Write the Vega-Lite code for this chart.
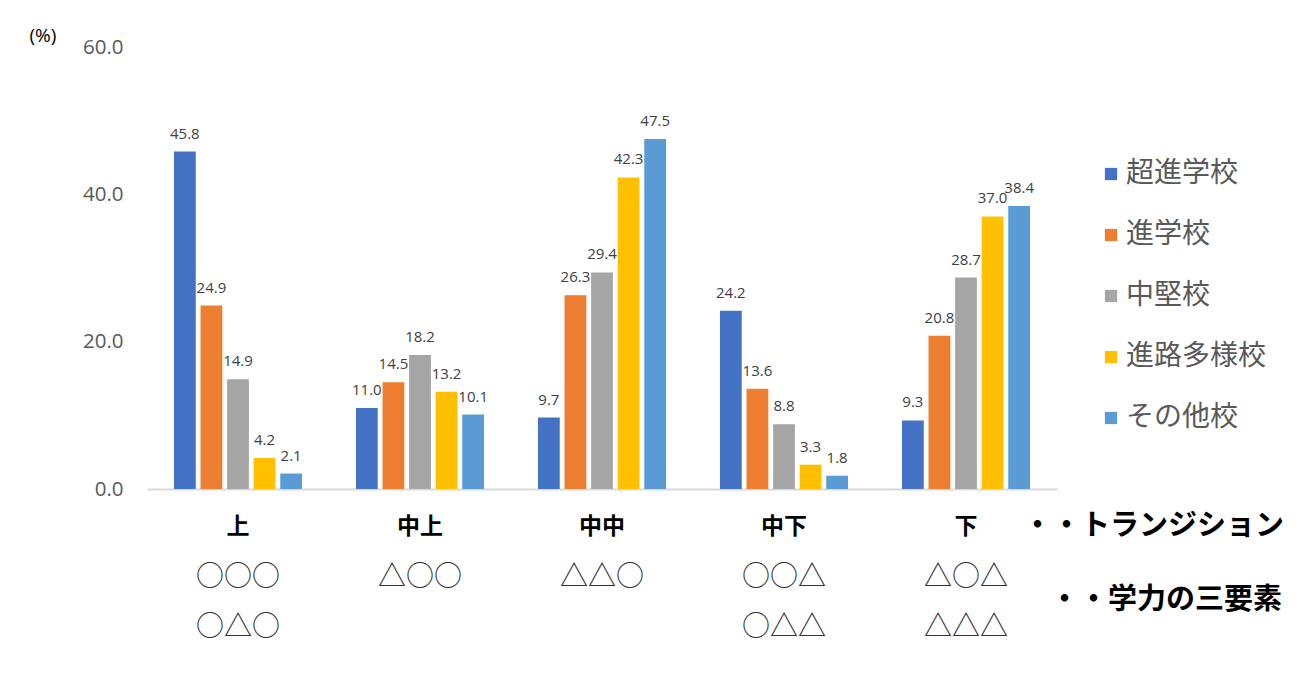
{
  "$schema": "https://vega.github.io/schema/vega-lite/v6.json",
  "autosize": {"type": "none"},
  "padding": {"left": 147, "top": 47, "right": 1149, "bottom": 639},
  "bounds": "flush",
  "spacing": 24,
  "background": "white",
  "config": {
    "view": {"stroke": null},
    "font": "Noto Sans CJK JP"
  },
  "datasets": {
    "bars": [
      {"group": "上", "school": "超進学校", "pct": 45.8},
      {"group": "上", "school": "進学校", "pct": 24.9},
      {"group": "上", "school": "中堅校", "pct": 14.9},
      {"group": "上", "school": "進路多様校", "pct": 4.2},
      {"group": "上", "school": "その他校", "pct": 2.1},
      {"group": "中上", "school": "超進学校", "pct": 11.0},
      {"group": "中上", "school": "進学校", "pct": 14.5},
      {"group": "中上", "school": "中堅校", "pct": 18.2},
      {"group": "中上", "school": "進路多様校", "pct": 13.2},
      {"group": "中上", "school": "その他校", "pct": 10.1},
      {"group": "中中", "school": "超進学校", "pct": 9.7},
      {"group": "中中", "school": "進学校", "pct": 26.3},
      {"group": "中中", "school": "中堅校", "pct": 29.4},
      {"group": "中中", "school": "進路多様校", "pct": 42.3},
      {"group": "中中", "school": "その他校", "pct": 47.5},
      {"group": "中下", "school": "超進学校", "pct": 24.2},
      {"group": "中下", "school": "進学校", "pct": 13.6},
      {"group": "中下", "school": "中堅校", "pct": 8.8},
      {"group": "中下", "school": "進路多様校", "pct": 3.3},
      {"group": "中下", "school": "その他校", "pct": 1.8},
      {"group": "下", "school": "超進学校", "pct": 9.3},
      {"group": "下", "school": "進学校", "pct": 20.8},
      {"group": "下", "school": "中堅校", "pct": 28.7},
      {"group": "下", "school": "進路多様校", "pct": 37.0},
      {"group": "下", "school": "その他校", "pct": 38.4}
    ],
    "labels": [
      {"group": "上", "line": "name", "text": "上"},
      {"group": "上", "line": "sym1", "text": "○○○"},
      {"group": "上", "line": "sym2", "text": "○△○"},
      {"group": "中上", "line": "name", "text": "中上"},
      {"group": "中上", "line": "sym1", "text": "△○○"},
      {"group": "中中", "line": "name", "text": "中中"},
      {"group": "中中", "line": "sym1", "text": "△△○"},
      {"group": "中下", "line": "name", "text": "中下"},
      {"group": "中下", "line": "sym1", "text": "○○△"},
      {"group": "中下", "line": "sym2", "text": "○△△"},
      {"group": "下", "line": "name", "text": "下"},
      {"group": "下", "line": "sym1", "text": "△○△"},
      {"group": "下", "line": "sym2", "text": "△△△"}
    ],
    "notes": [
      {"group": "下", "line": "name", "note": "・・トランジション"},
      {"group": "下", "line": "mid", "note": "・・学力の三要素"}
    ]
  },
  "vconcat": [
    {
      "width": 910,
      "height": 442,
      "data": {"name": "bars"},
      "encoding": {
        "x": {
          "field": "group", "type": "nominal",
          "sort": ["上", "中上", "中中", "中下", "下"],
          "scale": {"paddingInner": 0.27, "paddingOuter": 0.135},
          "axis": {"title": null, "labels": false, "ticks": false, "domainColor": "#d9d9d9", "domainWidth": 2}
        },
        "xOffset": {
          "field": "school", "type": "nominal",
          "sort": ["超進学校", "進学校", "中堅校", "進路多様校", "その他校"],
          "scale": {"paddingInner": 0.18, "paddingOuter": 0.09}
        },
        "y": {
          "field": "pct", "type": "quantitative",
          "scale": {"domain": [0, 60], "nice": false},
          "axis": {
            "values": [0, 20, 40, 60], "format": ".1f",
            "grid": false, "domain": false, "ticks": false,
            "labelFont": "Open Sans", "labelFontSize": 20.5, "labelColor": "#595959", "labelPadding": 24,
            "title": "(%)", "titleAngle": 0, "titleX": -118, "titleY": -12,
            "titleAlign": "left", "titleBaseline": "middle",
            "titleFont": "Open Sans", "titleFontSize": 19, "titleFontWeight": "normal", "titleColor": "#000000"
          }
        }
      },
      "layer": [
        {
          "mark": {"type": "bar"},
          "encoding": {
            "color": {
              "field": "school", "type": "nominal",
              "sort": ["超進学校", "進学校", "中堅校", "進路多様校", "その他校"],
              "scale": {
                "domain": ["超進学校", "進学校", "中堅校", "進路多様校", "その他校"],
                "range": ["#4472C4", "#ED7D31", "#A5A5A5", "#FFC000", "#5B9BD5"]
              },
              "legend": {
                "title": null, "orient": "none", "legendX": 950, "legendY": 113,
                "symbolType": "square", "symbolSize": 150, "symbolStrokeWidth": 0,
                "labelFont": "Noto Sans CJK JP", "labelFontSize": 28, "labelColor": "#595959",
                "labelOffset": 1, "rowPadding": 33, "labelLimit": 300
              }
            }
          }
        },
        {
          "mark": {"type": "text", "baseline": "bottom", "dy": -10, "font": "Open Sans", "fontSize": 15, "color": "#404040"},
          "encoding": {"text": {"field": "pct", "type": "quantitative", "format": ".1f"}}
        }
      ]
    },
    {
      "width": 910,
      "height": 125,
      "encoding": {
        "x": {
          "field": "group", "type": "nominal",
          "sort": ["上", "中上", "中中", "中下", "下"],
          "scale": {"domain": ["上", "中上", "中中", "中下", "下"], "paddingInner": 0.27, "paddingOuter": 0.135},
          "axis": null
        },
        "y": {
          "field": "line", "type": "nominal",
          "scale": {"type": "point", "domain": ["name", "gap", "sym1", "mid", "sym2"], "padding": 0.5},
          "axis": null
        }
      },
      "layer": [
        {
          "data": {"name": "labels"},
          "transform": [{"filter": "datum.line == 'name'"}],
          "mark": {"type": "text", "font": "Noto Sans CJK JP", "fontSize": 23, "fontWeight": "bold", "dy": 1, "color": "#000000"},
          "encoding": {"text": {"field": "text"}}
        },
        {
          "data": {"name": "labels"},
          "transform": [{"filter": "datum.line != 'name'"}],
          "mark": {"type": "text", "font": "Noto Sans CJK JP", "fontSize": 28, "dy": 2, "color": "#333333"},
          "encoding": {"text": {"field": "text"}}
        },
        {
          "data": {"name": "notes"},
          "transform": [{"filter": "datum.line == 'name'"}],
          "mark": {"type": "text", "align": "left", "dx": 57, "font": "Noto Sans CJK JP", "fontSize": 29, "fontWeight": "bold", "color": "#000000"},
          "encoding": {"text": {"field": "note"}}
        },
        {
          "data": {"name": "notes"},
          "transform": [{"filter": "datum.line == 'mid'"}],
          "mark": {"type": "text", "align": "left", "dx": 84, "dy": -1, "font": "Noto Sans CJK JP", "fontSize": 29, "fontWeight": "bold", "color": "#000000"},
          "encoding": {"text": {"field": "note"}}
        }
      ]
    }
  ]
}
